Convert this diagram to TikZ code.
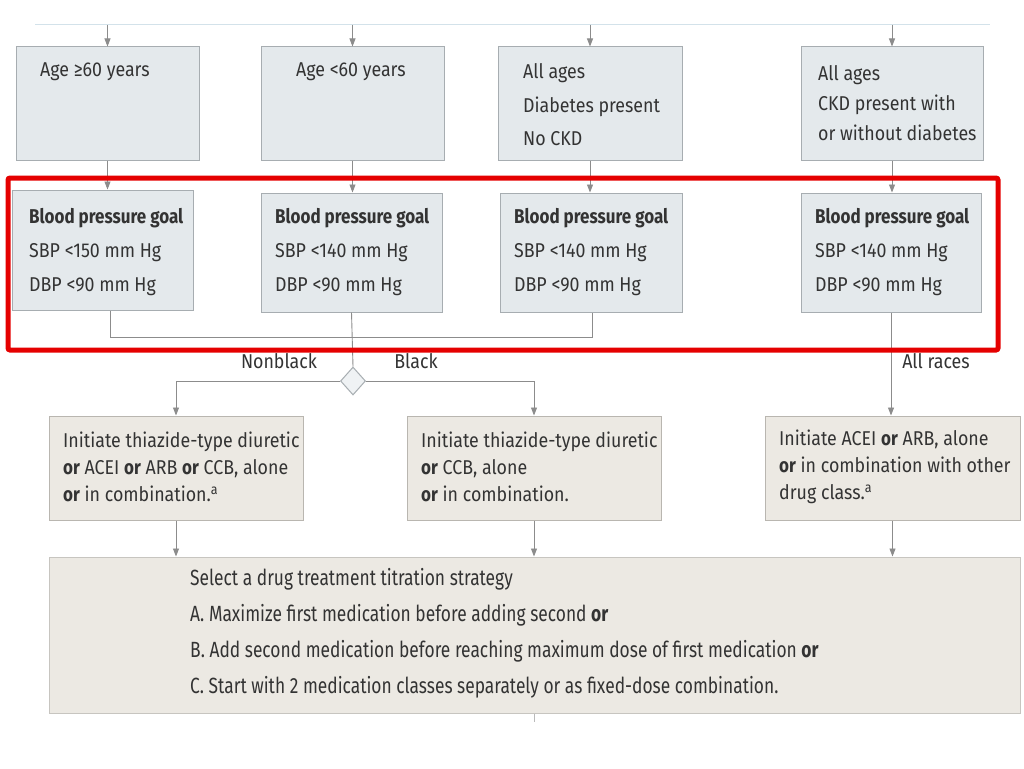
\documentclass[tikz,border=0pt]{standalone}
\usepackage{fontspec}
\setmainfont{Fira Sans}[FakeStretch=0.89, BoldFeatures={FakeStretch=0.85}]
\newfontfamily\condfont{Fira Sans}[FakeStretch=0.79]
\usetikzlibrary{arrows.meta,shapes.geometric}
\definecolor{txt}{HTML}{333333}
\definecolor{bluefill}{HTML}{E4E9EC}
\definecolor{bluedraw}{HTML}{A7ADB1}
\definecolor{beigefill}{HTML}{ECE9E3}
\definecolor{beigedraw}{HTML}{B9B6B0}
\definecolor{conn}{HTML}{8C8C8C}
\definecolor{topline}{HTML}{D3E2EA}
\definecolor{hlred}{HTML}{E50000}
\tikzset{
  bluebox/.style={draw=bluedraw, fill=bluefill, line width=1pt, inner sep=0pt},
  beigebox/.style={draw=beigedraw, fill=beigefill, line width=1pt, inner sep=0pt},
  lbl/.style={text=txt, inner sep=0pt, anchor=west, align=left},
  wire/.style={draw=conn, line width=0.9pt},
  arr/.style={wire, -{Triangle[width=6pt,length=8pt]}},
}
\begin{document}
\begin{tikzpicture}[x=1pt,y=-1pt]
\useasboundingbox (0,0) rectangle (1024,768);
\fill[white] (0,0) rectangle (1024,768);

% top line
\coordinate (tl) at (35,25);
\coordinate (tr) at (990,25);
\draw[topline, line width=1pt] (tl) -- (tr);

% top boxes
\node[bluebox, minimum width=183pt, minimum height=113pt] (a1) at (107.5,103.5) {};
\node[bluebox, minimum width=183pt, minimum height=113pt] (a2) at (352.5,103.5) {};
\node[bluebox, minimum width=184pt, minimum height=113pt] (a3) at (590,103.5) {};
\node[bluebox, minimum width=182pt, minimum height=113pt] (a4) at (892,103.5) {};

\node[lbl, font=\fontsize{20}{33.5}\selectfont] (ta1) at (40,72) {Age ≥60 years};
\node[lbl, font=\fontsize{20}{33.5}\selectfont] (ta2) at (296,72) {Age <60 years};
\node[lbl, font=\fontsize{20}{33.5}\selectfont] (ta3) at (523,105) {All ages\\Diabetes present\\No CKD};
\node[lbl, font=\fontsize{20}{30}\selectfont] (ta4) at (818,103) {All ages\\CKD present with\\or without diabetes};

% BP goal boxes
\node[bluebox, minimum width=181pt, minimum height=120pt] (b1) at (102.5,250) {};
\node[bluebox, minimum width=181pt, minimum height=119pt] (b2) at (351.5,252.5) {};
\node[bluebox, minimum width=182pt, minimum height=119pt] (b3) at (591,252.5) {};
\node[bluebox, minimum width=180pt, minimum height=119pt] (b4) at (891,252.5) {};

\node[lbl, font=\fontsize{20}{34}\selectfont] (tb1) at (29,252) {\textbf{Blood pressure goal}\\SBP <150 mm Hg\\DBP <90 mm Hg};
\node[lbl, font=\fontsize{20}{34}\selectfont] (tb2) at (275,252) {\textbf{Blood pressure goal}\\SBP <140 mm Hg\\DBP <90 mm Hg};
\node[lbl, font=\fontsize{20}{34}\selectfont] (tb3) at (514,252) {\textbf{Blood pressure goal}\\SBP <140 mm Hg\\DBP <90 mm Hg};
\node[lbl, font=\fontsize{20}{34}\selectfont] (tb4) at (815,252) {\textbf{Blood pressure goal}\\SBP <140 mm Hg\\DBP <90 mm Hg};

% arrows from top line
\draw[arr] (tl -| a1.north) -- (a1.north);
\draw[arr] (tl -| a2.north) -- (a2.north);
\draw[arr] (tl -| a3.north) -- (a3.north);
\draw[arr] (tl -| a4.north) -- (a4.north);

% top boxes to BP boxes
\draw[arr] (a1.south) -- (a1.south |- b1.north);
\draw[arr] (a2.south) -- (a2.south |- b2.north);
\draw[arr] (a3.south) -- (a3.south |- b3.north);
\draw[arr] (a4.south) -- (a4.south |- b4.north);

% joining line
\coordinate (j1) at (110,337);
\coordinate (j3) at (592,337);
\draw[wire] (j1 |- b1.south) -- (j1) -- (j3) -- (j3 |- b3.south);

% diamond
\node[diamond, draw=bluedraw, fill=bluefill!60, line width=1pt, minimum width=25pt, minimum height=28pt, inner sep=0pt] (d) at (353,381) {};
\draw[wire] (b2.south) -- (d.north);

% Initiate boxes
\node[beigebox, minimum width=254pt, minimum height=104pt] (i1) at (176,468) {};
\node[beigebox, minimum width=254pt, minimum height=104pt] (i2) at (534,468) {};
\node[beigebox, minimum width=255pt, minimum height=104pt] (i3) at (892.5,468) {};

\node[lbl, font=\fontsize{20}{27}\selectfont] (ti1) at (63,467) {Initiate thiazide-type diuretic\\\textbf{or} ACEI \textbf{or} ARB \textbf{or} CCB, alone\\\textbf{or} in combination.\textsuperscript{a}};
\node[lbl, font=\fontsize{20}{27}\selectfont] (ti2) at (421,467) {Initiate thiazide-type diuretic\\\textbf{or} CCB, alone\\\textbf{or} in combination.};
\node[lbl, font=\fontsize{20}{27}\selectfont] (ti3) at (779,467) {Initiate ACEI \textbf{or} ARB, alone\\\textbf{or} in combination with other\\drug class.\textsuperscript{a}};

\draw[arr] (d.west) -| (i1.north);
\draw[arr] (d.east) -| (i2.north);
\draw[arr] (b4.south) -- (b4.south |- i3.north);

% labels
\node[text=txt, font=\fontsize{20}{22}\selectfont, inner sep=0pt] (nb) at (279,361) {Nonblack};
\node[text=txt, font=\fontsize{20}{22}\selectfont, inner sep=0pt] (bl) at (416,361) {Black};
\node[text=txt, font=\fontsize{20}{22}\selectfont, inner sep=0pt] (ar) at (936,361) {All races};

% bottom box
\node[beigebox, draw=beigedraw!80, minimum width=971pt, minimum height=156pt] (bot) at (534.5,635) {};
\node[lbl, font=\condfont\fontsize{22}{36}\selectfont] (tbot) at (190,633) {Select a drug treatment titration strategy\\A. Maximize first medication before adding second \textbf{or}\\B. Add second medication before reaching maximum dose of first medication \textbf{or}\\C. Start with 2 medication classes separately or as fixed-dose combination.};

\draw[arr] (i1.south) -- (i1.south |- bot.north);
\draw[arr] (i2.south) -- (i2.south |- bot.north);
\draw[arr] (i3.south) -- (i3.south |- bot.north);

\coordinate (bs) at (534,722);
\draw[wire, draw=conn!60] (bot.south -| bs) -- (bs);

% red highlight
\draw[hlred, line width=5pt, rounded corners=2pt] (8,178) rectangle (998,350);
\end{tikzpicture}
\end{document}
